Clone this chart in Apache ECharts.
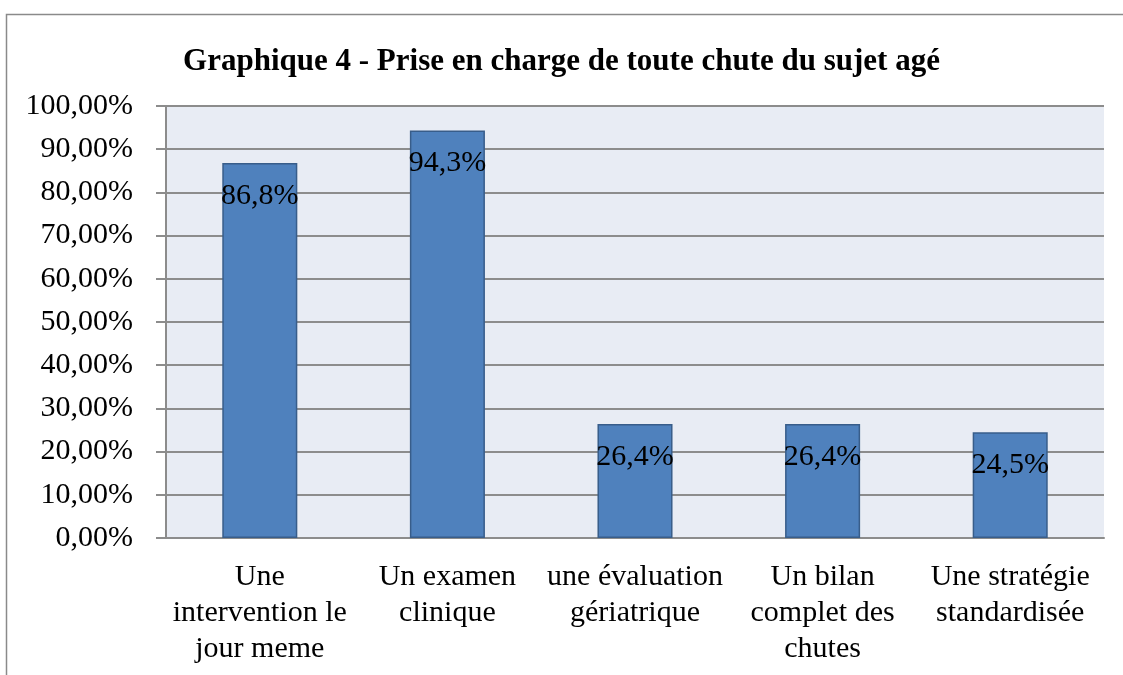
<!DOCTYPE html>
<html>
<head>
<meta charset="utf-8">
<script src="https://cdn.jsdelivr.net/npm/echarts@6/dist/echarts.min.js"></script>
<style>
  html, body { margin: 0; padding: 0; background: #fff; }
  #chart { width: 1123px; height: 675px; }
</style>
</head>
<body>
<div id="chart"></div>
<script>
// chart data
const titleText = 'Graphique 4 - Prise en charge de toute chute du sujet agé';
const categories = [
  'Une\nintervention le\njour meme',
  'Un examen\nclinique',
  'une évaluation\ngériatrique',
  'Un bilan\ncomplet des\nchutes',
  'Une stratégie\nstandardisée'
];
const values = [86.8, 94.3, 26.4, 26.4, 24.5];

const FONT = '"Liberation Serif", "Times New Roman", serif';

const chart = echarts.init(document.getElementById('chart'), null, { renderer: 'canvas' });

chart.setOption({
  backgroundColor: '#ffffff',
  animation: false,
  title: {
    text: titleText,
    left: 'center',
    top: 41,
    textStyle: { fontFamily: FONT, fontSize: 31, fontWeight: 'bold', color: '#000' }
  },
  // outer frame of the chart area (top + left only visible)
  graphic: [{
    type: 'polyline',
    shape: { points: [[6.5, 675], [6.5, 14.5], [1123, 14.5]] },
    style: { stroke: '#8a8a8a', lineWidth: 1.5, fill: null }
  }],
  grid: {
    left: 166, right: 19, top: 106, bottom: 137,
    show: true,
    backgroundColor: '#e8ecf4',
    borderWidth: 0
  },
  xAxis: {
    type: 'category',
    data: categories,
    axisLine: { lineStyle: { color: '#8c8c8c', width: 2 } },
    axisTick: { show: false },
    axisLabel: {
      fontFamily: FONT, fontSize: 30, color: '#000',
      lineHeight: 36, margin: 21, interval: 0
    }
  },
  yAxis: {
    type: 'value',
    min: 0, max: 100, interval: 10,
    axisLine: { show: true, lineStyle: { color: '#8c8c8c', width: 2 } },
    axisTick: { show: true, length: 10, lineStyle: { color: '#8c8c8c', width: 2 } },
    splitLine: { lineStyle: { color: '#8c8c8c', width: 2 } },
    axisLabel: {
      fontFamily: FONT, fontSize: 30, color: '#000', margin: 33,
      formatter: v => v.toFixed(2).replace('.', ',') + '%'
    }
  },
  series: [{
    type: 'bar',
    data: values,
    barWidth: '40%',
    itemStyle: { color: '#4f81bd', borderColor: '#385d8a', borderWidth: 1.5 },
    label: {
      show: true,
      position: 'insideTop',
      distance: 18,
      fontFamily: FONT, fontSize: 30, color: '#000',
      formatter: p => p.value.toFixed(1).replace('.', ',') + '%'
    }
  }]
});
</script>
</body>
</html>
